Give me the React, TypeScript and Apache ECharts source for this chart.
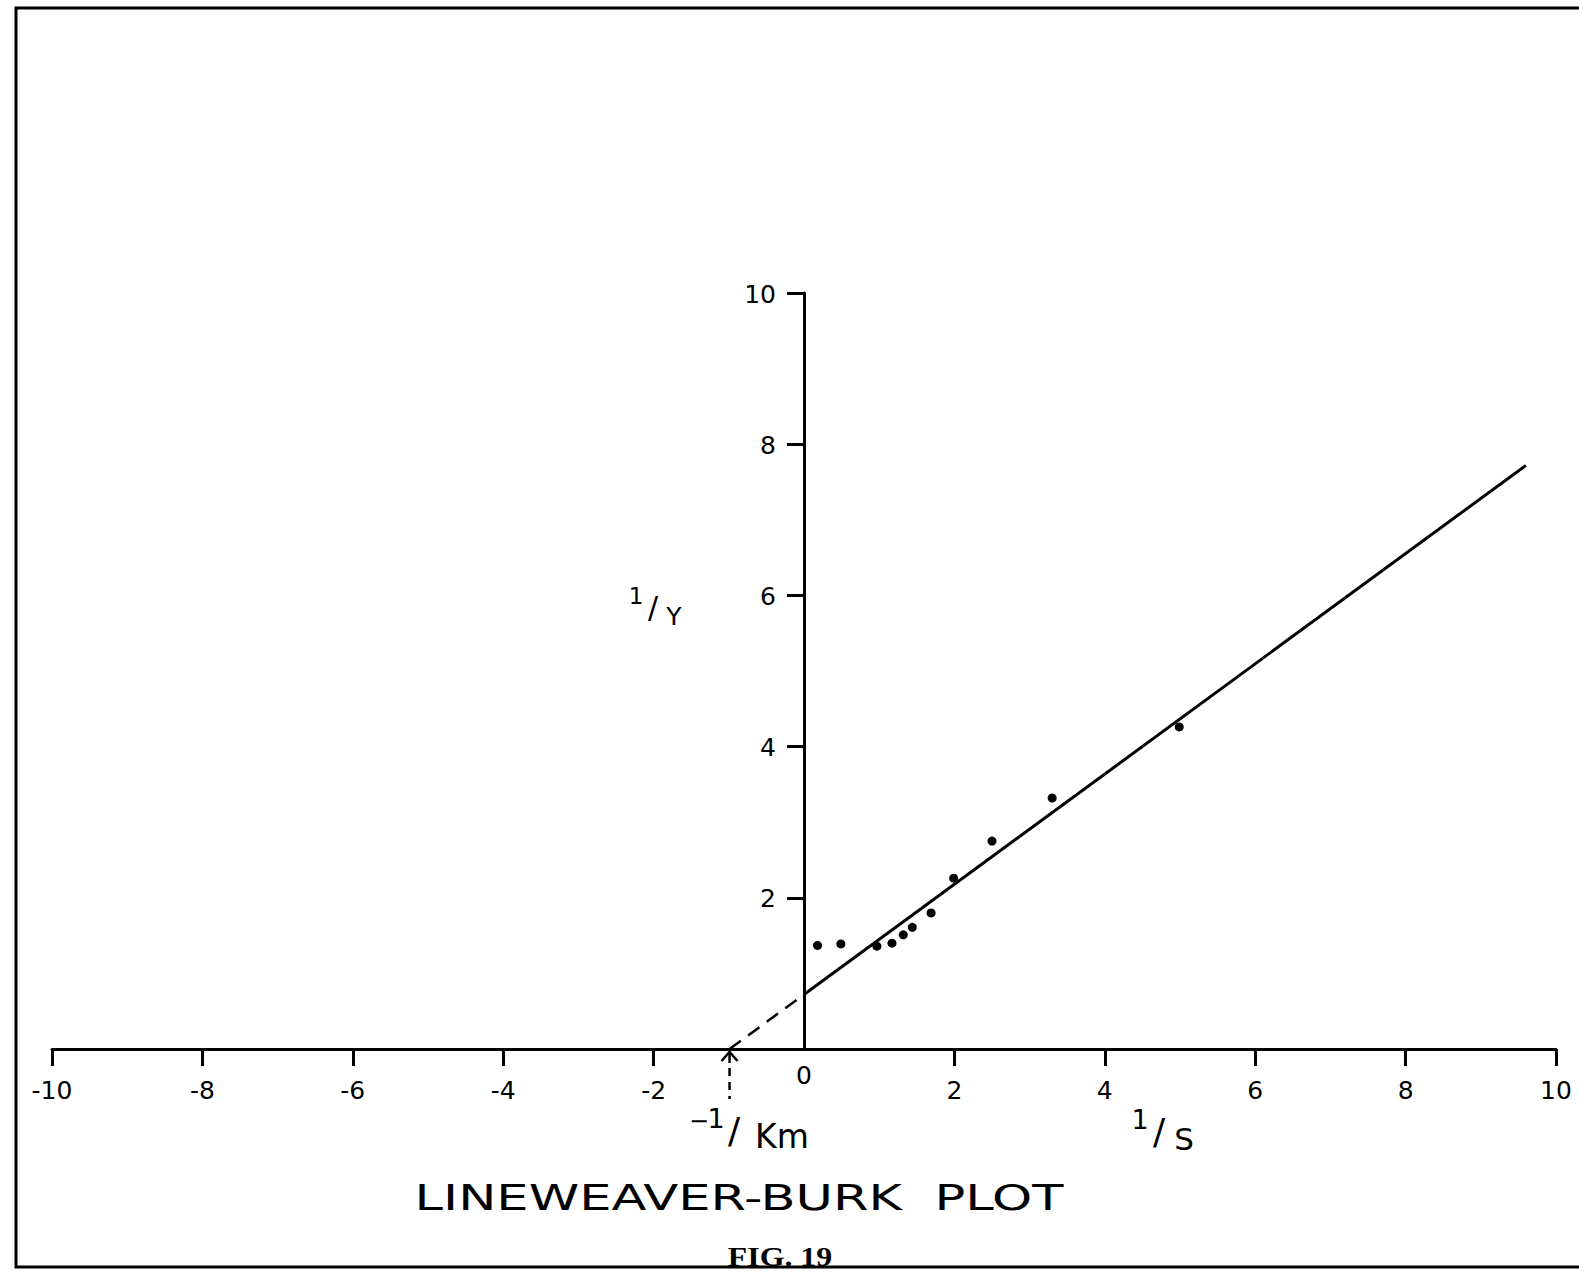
import React, { useEffect, useRef } from 'react';
import * as echarts from 'echarts';

// Tick values
const X_TICKS = [-10, -8, -6, -4, -2, 2, 4, 6, 8, 10];
const Y_TICKS = [2, 4, 6, 8, 10];

// Data: 1/S and 1/v
const S_INV = [0.18, 0.49, 0.97, 1.17, 1.32, 1.44, 1.69, 1.99, 2.5, 3.3, 4.99];
const V_INV = [1.37, 1.39, 1.36, 1.4, 1.51, 1.61, 1.8, 2.26, 2.75, 3.32, 4.26];

// Fitted line (solid part) and its extrapolation (dashed part)
const FIT_SOLID_X = [0, 9.6];
const FIT_SOLID_Y = [0.72, 7.72];
const FIT_DASH_X = [-0.99, 0];
const FIT_DASH_Y = [0, 0.72];
const KM_INV = -0.99;

const FONT = 'DejaVu Sans';

function txt(id: string, text: string, x: number, y: number, size: number, extra: any = {}, el: any = {}) {
  return {
    type: 'text',
    id,
    x,
    y,
    ...el,
    style: {
      text,
      fill: '#000',
      fontSize: size,
      fontFamily: FONT,
      align: 'center',
      verticalAlign: 'middle',
      textAlign: 'center',
      textVerticalAlign: 'middle',
      ...extra,
    },
  };
}

export default function App() {
  const ref = useRef<HTMLDivElement>(null);
  useEffect(() => {
    if (!ref.current) return;
    const chart = echarts.init(ref.current, null, { renderer: 'svg' });
    const axisLineStyle = { color: '#000', width: 3 };
    chart.setOption({
      animation: false,
      backgroundColor: '#fff',
      grid: { left: 52, right: 23, top: 293, bottom: 224, outerBoundsMode: 'none' },
      xAxis: {
        type: 'value',
        min: -10,
        max: 10,
        interval: 2,
        axisLine: { onZero: true, lineStyle: axisLineStyle },
        axisTick: { length: 17, lineStyle: { color: '#000', width: 3 }, customValues: X_TICKS },
        axisLabel: { customValues: X_TICKS, margin: 29, fontSize: 25, color: '#000', fontFamily: FONT },
        splitLine: { show: false },
      },
      yAxis: {
        type: 'value',
        min: 0,
        max: 10,
        interval: 2,
        axisLine: { show: true, onZero: true, lineStyle: axisLineStyle },
        axisTick: { show: true, length: 17, lineStyle: { color: '#000', width: 3 }, customValues: Y_TICKS },
        axisLabel: { show: false },
        splitLine: { show: false },
      },
      series: [
        {
          type: 'line',
          data: FIT_SOLID_X.map((x, i) => [x, FIT_SOLID_Y[i]]),
          symbol: 'none',
          lineStyle: { color: '#000', width: 3 },
          z: 3,
        },
        {
          type: 'line',
          data: FIT_DASH_X.map((x, i) => [x, FIT_DASH_Y[i]]),
          symbol: 'none',
          lineStyle: { color: '#000', width: 2.5, type: [14, 9] },
          z: 3,
        },
        {
          type: 'scatter',
          data: S_INV.map((x, i) => [x, V_INV[i]]),
          symbolSize: 9,
          itemStyle: { color: '#000', opacity: 1 },
          z: 4,
        },
      ],
      graphic: [
        {
          type: 'polyline',
          id: 'frame',
          shape: { points: [[1579, 8], [16, 8], [16, 1267], [1579, 1267]] },
          style: { stroke: '#000', lineWidth: 3, fill: 'none' },
        },
        // 1/Y
        txt('y1', '1', 636, 596, 23),
        txt('ys', '/', 653, 607, 30),
        txt('yY', 'Y', 674, 616, 25),
        // 1/S
        txt('s1', '1', 1140, 1119, 27),
        txt('ss', '/', 1159, 1131, 36),
        txt('sS', 'S', 1184, 1139, 31),
        // -1/Km
        txt('km0', '−', 699, 1121, 24),
        txt('km1', '1', 716, 1118, 27),
        txt('kms', '/', 734, 1130, 36),
        txt('kmK', 'Km', 782, 1136, 33),
        // Title
        txt('title', 'LINEWEAVER-BURK  PLOT', 739, 1197, 36, {}, { scaleX: 1.42 }),
        txt('fig', 'FIG. 19', 780, 1257, 27, { fontFamily: 'Liberation Serif', fontWeight: 'bold' }, { scaleX: 1.18 }),
      ],
    });

    const p0 = chart.convertToPixel({ gridIndex: 0 }, [0, 0]) as number[];
    const pk = chart.convertToPixel({ gridIndex: 0 }, [KM_INV, 0]) as number[];
    const yLabels = Y_TICKS.map((v) => {
      const p = chart.convertToPixel({ gridIndex: 0 }, [0, v]) as number[];
      return txt('ylab' + v, String(v), p[0] - 28, p[1] + 1, 25, { align: 'right', textAlign: 'right' });
    });
    chart.setOption({
      graphic: [
        ...yLabels,
        txt('zero', '0', p0[0], p0[1] + 26, 25),
        {
          type: 'polyline',
          id: 'arrowHead',
          shape: { points: [[pk[0] - 8, pk[1] + 12], [pk[0], pk[1] + 3], [pk[0] + 8, pk[1] + 12]] },
          style: { stroke: '#000', lineWidth: 2.5, fill: 'none' },
        },
        {
          type: 'line',
          id: 'arrowShaft',
          shape: { x1: pk[0], y1: pk[1] + 3, x2: pk[0], y2: pk[1] + 14 },
          style: { stroke: '#000', lineWidth: 2.5 },
        },
        {
          type: 'line',
          id: 'arrowDash',
          shape: { x1: pk[0], y1: pk[1] + 19, x2: pk[0], y2: pk[1] + 50 },
          style: { stroke: '#000', lineWidth: 2.5, lineDash: [8, 6] },
        },
      ],
    });

    return () => chart.dispose();
  }, []);
  return (
    <div
      ref={ref}
      style={{ position: 'absolute', left: 0, top: 0, width: 1579, height: 1273, background: '#fff' }}
    />
  );
}
